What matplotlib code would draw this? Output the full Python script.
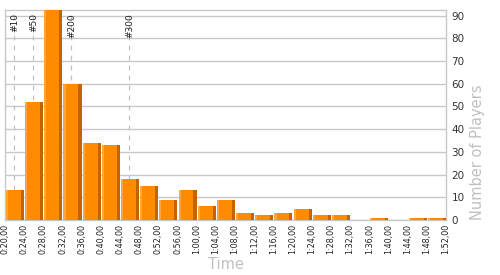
import numpy as np
import matplotlib.pyplot as plt


# ======================================================================================== #
# Dados do histograma (tempo de conclusão x número de jogadores).
# ======================================================================================== #

rotulos_tempo = [
    "0:20,00", "0:24,00", "0:28,00", "0:32,00", "0:36,00", "0:40,00",
    "0:44,00", "0:48,00", "0:52,00", "0:56,00", "1:00,00", "1:04,00",
    "1:08,00", "1:12,00", "1:16,00", "1:20,00", "1:24,00", "1:28,00",
    "1:32,00", "1:36,00", "1:40,00", "1:44,00", "1:48,00", "1:52,00",
]

quantidade_jogadores = [
    13, 52, 93, 60, 34, 33, 18, 15, 9, 13, 6, 9,
    3, 2, 3, 5, 2, 2, 0, 1, 0, 1, 1,
]

# Posições dos marcadores de ranking, em minutos.
rotulos_ranking = ["#10", "#50", "#200", "#300"]
minutos_ranking = [21.9, 25.9, 33.8, 45.9]

inicio_minutos = 20
passo_minutos = 4

cor_barra = "#ff8c00"
cor_luz = "#ffa53a"
cor_sombra = "#c46400"
cor_grade = "#c8c8c8"
cor_titulo = "#c0c0c0"


fig = plt.figure(figsize=(5, 2.75), dpi=100)
ax = fig.add_axes([0.01, 0.2, 0.882, 0.764])

# ======================================================================================== #
# Barras com efeito 3D simples: face, faixa clara à esquerda, faixa escura à direita.
# ======================================================================================== #
posicoes = np.arange(len(quantidade_jogadores))
largura = 0.94
deslocamento = 0.05

ax.bar(posicoes + deslocamento, quantidade_jogadores, width=largura,
       align="edge", color=cor_barra, zorder=3)
ax.bar(posicoes + deslocamento, quantidade_jogadores, width=0.11,
       align="edge", color=cor_luz, zorder=4)
ax.bar(posicoes + deslocamento + largura - 0.16, quantidade_jogadores, width=0.16,
       align="edge", color=cor_sombra, zorder=4)

# ======================================================================================== #
# Linhas tracejadas de ranking.
# ======================================================================================== #
for rotulo, minuto in zip(rotulos_ranking, minutos_ranking):
    x = (minuto - inicio_minutos) / passo_minutos
    ax.axvline(x, color=cor_titulo, linestyle=(0, (4, 4)), linewidth=0.9, zorder=2)
    ax.text(x + 0.02, 0.985, rotulo, transform=ax.get_xaxis_transform(),
            rotation=90, ha="center", va="top", fontsize=6.5,
            color="#222222", zorder=5)

# ======================================================================================== #
# Eixos.
# ======================================================================================== #
ax.set_xlim(0, len(quantidade_jogadores))
ax.set_ylim(0, 92.5)

ax.set_xticks(np.arange(len(rotulos_tempo)))
ax.set_xticklabels(rotulos_tempo, rotation=90, fontsize=5.8, color="#222222")
ax.tick_params(axis="x", length=0, pad=3)

ax.yaxis.tick_right()
ax.yaxis.set_label_position("right")
ax.set_yticks(np.arange(0, 91, 10))
ax.tick_params(axis="y", length=0, pad=4, labelsize=7.5, labelcolor="#333333")

ax.grid(axis="y", color=cor_grade, linewidth=1.0, zorder=1)
ax.set_axisbelow(True)

for lado in ax.spines.values():
    lado.set_color(cor_grade)
    lado.set_linewidth(1.0)

ax.set_xlabel("Time", fontsize=10.5, color=cor_titulo)
ax.xaxis.set_label_coords(0.5, -0.178)
ax.set_ylabel("Number of Players", fontsize=10.5, color=cor_titulo,
              loc="bottom", labelpad=4)

plt.savefig("out.png", dpi=100)
plt.close()
